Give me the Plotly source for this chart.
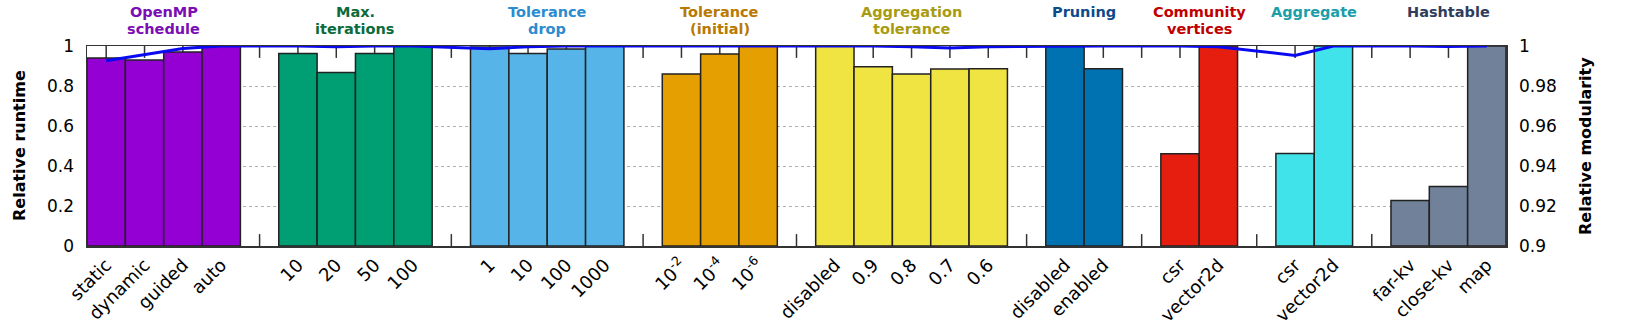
import plotly.graph_objects as go

# ---------------- data ----------------
group_titles = ["OpenMP\nschedule", "Max.\niterations", "Tolerance\ndrop", "Tolerance\n(initial)",
                "Aggregation\ntolerance", "Pruning", "Community\nvertices", "Aggregate", "Hashtable"]
group_title_colors = ["#7a0db3", "#0b6b3a", "#2b8ccf", "#b97800", "#a89b12", "#0d4a8c",
                      "#c00000", "#1a9eaa", "#2f3d5c"]
group_bar_colors = ["#9400d3", "#009e73", "#56b4e9", "#e69f00", "#f0e442", "#0072b2",
                    "#e51e10", "#40e3ea", "#718199"]

categories = [
    ["static", "dynamic", "guided", "auto"],
    ["10", "20", "50", "100"],
    ["1", "10", "100", "1000"],
    ["10<sup>-2</sup>", "10<sup>-4</sup>", "10<sup>-6</sup>"],
    ["disabled", "0.9", "0.8", "0.7", "0.6"],
    ["disabled", "enabled"],
    ["csr", "vector2d"],
    ["csr", "vector2d"],
    ["far-kv", "close-kv", "map"],
]
runtime = [
    [0.940, 0.930, 0.970, 1.000],
    [0.963, 0.868, 0.962, 1.000],
    [0.995, 0.962, 0.985, 1.000],
    [0.860, 0.960, 1.000],
    [1.000, 0.896, 0.860, 0.885, 0.886],
    [1.000, 0.886],
    [0.461, 1.000],
    [0.462, 1.000],
    [0.227, 0.297, 1.000],
]
modularity = [
    [0.9926, 0.9957, 0.9988, 1.0000],
    [1.0000, 0.9996, 1.0000, 1.0000],
    [0.9986, 0.9996, 1.0000, 1.0000],
    [1.0000, 0.9999, 1.0000],
    [1.0000, 1.0000, 0.9996, 0.9990, 0.9996],
    [1.0000, 1.0000],
    [1.0000, 0.9996],
    [0.9953, 1.0000],
    [1.0000, 0.9997, 1.0000],
]
left_ticks = [0, 0.2, 0.4, 0.6, 0.8, 1]
left_ticktext = ["0", "0.2", "0.4", "0.6", "0.8", "1"]
right_ticks = [0.9, 0.92, 0.94, 0.96, 0.98, 1.0]
right_ticktext = ["0.9", "0.92", "0.94", "0.96", "0.98", "1"]

# ---------------- layout geometry ----------------
W, H = 1627, 326
ML, MR, MT, MB = 87, 121, 46, 80
PW, PH = W - ML - MR, H - MT - MB
FONT = "DejaVu Sans"

slot = 0
tickvals, ticktext = [], []
line_x, line_y = [], []
annotations = []
bar_traces = []
for gi, cats in enumerate(categories):
    xs = list(range(slot, slot + len(cats)))
    bar_traces.append(go.Bar(
        x=xs, y=runtime[gi], width=1.0, yaxis="y2",
        marker=dict(color=group_bar_colors[gi], line=dict(color="#222222", width=1.5)),
        showlegend=False, hoverinfo="skip"))
    tickvals += xs
    ticktext += cats
    line_x += xs
    line_y += modularity[gi]
    center = (xs[0] + xs[-1]) / 2
    lines = group_titles[gi].split("\n")
    for li, txt in enumerate(lines):
        ypx = 12 + 17 * li
        annotations.append(dict(
            x=center, xref="x", y=1 + (MT - ypx) / PH, yref="paper",
            text="<b>%s</b>" % txt, showarrow=False, yanchor="middle", xanchor="center",
            font=dict(family=FONT, size=14.5, color=group_title_colors[gi])))
    slot += len(cats)
    if gi < len(categories) - 1:
        tickvals.append(slot)
        ticktext.append("")
        slot += 1

n_slots = slot
y_lo, y_hi = left_ticks[0], left_ticks[-1]

fig = go.Figure()
# inward tick marks on bottom and top axis (main subplot, drawn beneath the bars)
fig.add_trace(go.Scatter(
    x=tickvals + tickvals, y=[y_lo] * len(tickvals) + [y_hi] * len(tickvals),
    mode="markers", cliponaxis=True,
    marker=dict(symbol="line-ns", size=17, color="#333333",
                line=dict(color="#333333", width=1.5)),
    showlegend=False, hoverinfo="skip"))
for tr in bar_traces:
    fig.add_trace(tr)

fig.add_trace(go.Scatter(
    x=line_x, y=line_y, yaxis="y3", mode="lines",
    line=dict(color="#0a0af0", width=3), cliponaxis=False,
    showlegend=False, hoverinfo="skip"))

annotations.append(dict(
    x=(19 - ML) / PW, xref="paper", y=0.5, yref="paper", text="<b>Relative runtime</b>",
    textangle=-90, showarrow=False, xanchor="center", yanchor="middle",
    font=dict(family=FONT, size=16, color="black")))
annotations.append(dict(
    x=(1585 - ML) / PW, xref="paper", y=0.5, yref="paper", text="<b>Relative modularity</b>",
    textangle=-90, showarrow=False, xanchor="center", yanchor="middle",
    font=dict(family=FONT, size=16, color="black")))

fig.update_layout(
    width=W, height=H,
    margin=dict(l=ML, r=MR, t=MT, b=MB, pad=0),
    paper_bgcolor="white", plot_bgcolor="white",
    barmode="overlay", bargap=0,
    font=dict(family=FONT, size=16, color="black"),
    annotations=annotations,
    xaxis=dict(
        range=[-0.5, n_slots - 0.5], tickmode="array", tickvals=tickvals, ticktext=ticktext,
        tickangle=-45, ticks="",
        showline=True, linecolor="#333333", linewidth=1.5, mirror=True,
        showgrid=False, zeroline=False, layer="below traces", automargin=False,
        tickfont=dict(family=FONT, size=18, color="black")),
    yaxis=dict(
        range=[y_lo, y_hi], tickmode="array", tickvals=left_ticks, ticktext=left_ticktext,
        ticks="", showline=True, linecolor="#333333", linewidth=1.5, mirror=True,
        showgrid=True, gridcolor="#b0b0b0", griddash="dot", gridwidth=1,
        zeroline=False, layer="below traces", ticklabelstandoff=8, automargin=False,
        tickfont=dict(family=FONT, size=17, color="black")),
    yaxis2=dict(
        range=[y_lo, y_hi], overlaying="y", visible=False, showgrid=False, zeroline=False),
    yaxis3=dict(
        range=[0.9, 1.0], overlaying="y", side="right", tickmode="array",
        tickvals=right_ticks, ticktext=right_ticktext, ticks="", showgrid=False,
        zeroline=False, showline=False, ticklabelstandoff=12, automargin=False,
        tickfont=dict(family=FONT, size=17, color="black")),
)

fig.write_html(
    "out.html",
    config={"displayModeBar": False, "staticPlot": True},
    post_script="document.body.style.margin='0';document.body.style.overflow='hidden';")
